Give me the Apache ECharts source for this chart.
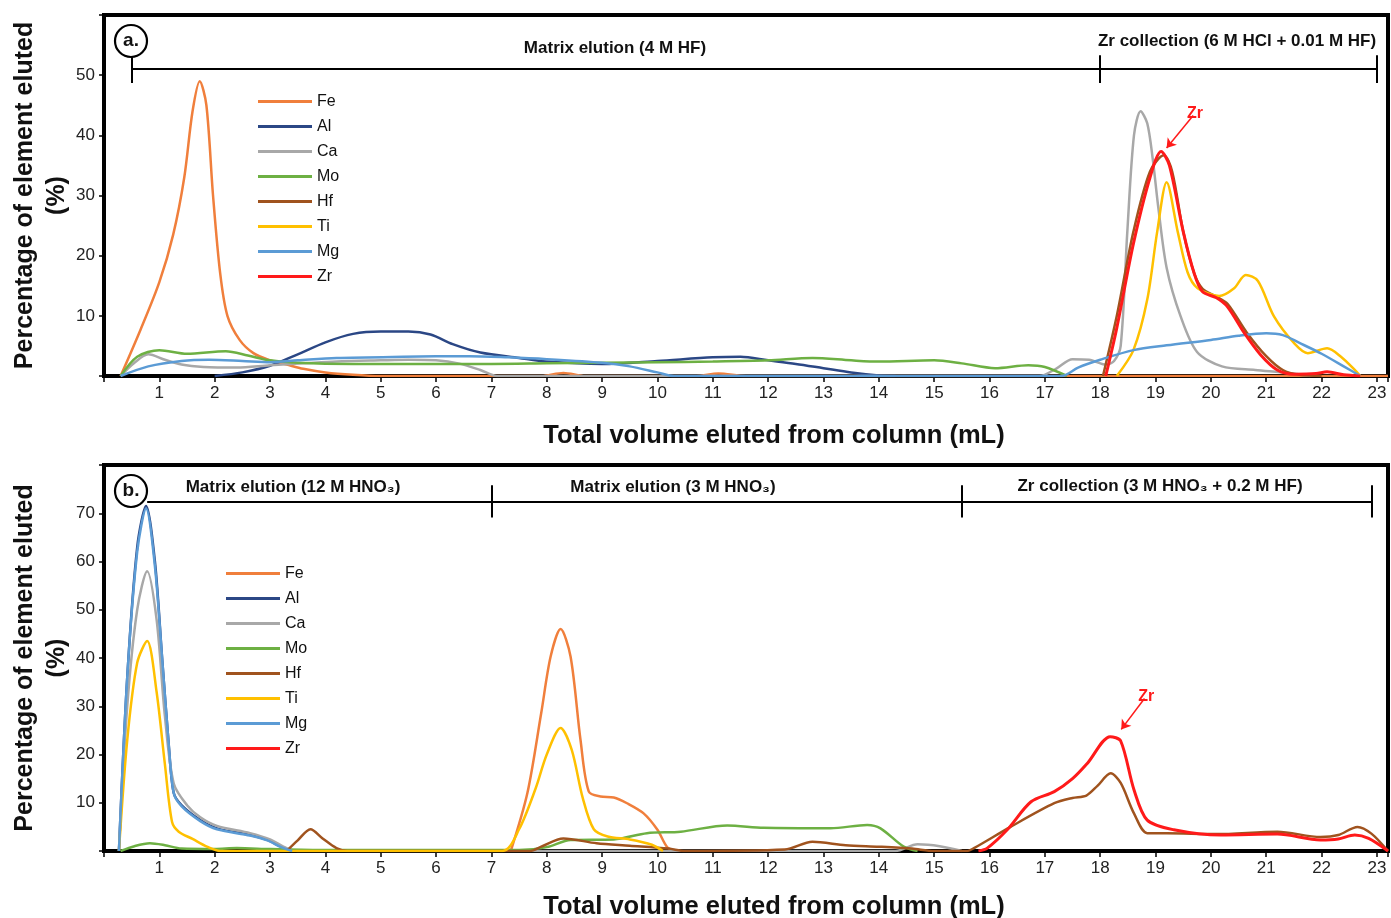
<!DOCTYPE html>
<html>
<head>
<meta charset="utf-8">
<title>Elution profiles</title>
<script src="https://cdn.jsdelivr.net/npm/echarts@6/dist/echarts.min.js"></script>
<style>
    html, body { margin: 0; padding: 0; background: #fff; }
    #chart { width: 1391px; height: 918px; }
</style>
</head>
<body>
<div id="chart"></div>
<script>
// element order as in the legends
var elements = ['Fe', 'Al', 'Ca', 'Mo', 'Hf', 'Ti', 'Mg', 'Zr'];

// ---- panel a : [volume mL, % eluted] ----
var feA = [[0.3,0],[0.66,7.7],[1.0,15.6],[1.25,23.5],[1.45,33],[1.6,44],[1.73,49],[1.85,45],[1.97,30],[2.1,17],[2.23,10],[2.45,6],[2.7,3.8],[3.0,2.6],[3.3,1.9],[3.6,1.2],[4.0,0.6],[4.5,0.2],[5.0,0],[7.9,0],[8.3,0.5],[8.7,0],[10.7,0],[11.1,0.4],[11.6,0],[23.2,0]];
var alA = [[2.0,0],[2.5,0.6],[3.0,1.7],[3.5,3.6],[4.0,5.6],[4.5,7.0],[5.0,7.4],[5.5,7.4],[5.9,6.9],[6.3,5.3],[6.8,3.9],[7.5,3.0],[8.0,2.4],[9.0,2.0],[10.0,2.5],[11.0,3.1],[11.5,3.2],[12.0,2.6],[12.5,2.0],[13.0,1.3],[13.5,0.6],[14.0,0.1],[14.3,0]];
var caA = [[0.3,0],[0.55,2.2],[0.8,3.6],[1.1,2.7],[1.4,1.9],[1.8,1.5],[2.4,1.4],[3.0,1.8],[3.6,2.1],[4.2,2.4],[5.0,2.6],[5.5,2.7],[6.0,2.6],[6.4,2.1],[6.8,1.0],[7.1,0],[16.9,0],[17.2,1.2],[17.5,2.8],[17.8,2.7],[18.1,1.9],[18.25,2.5],[18.37,5],[18.49,24],[18.61,40],[18.73,44],[18.85,42],[18.95,36],[19.05,28],[19.2,18],[19.45,10],[19.75,4],[20.2,1.6],[20.8,1.0],[21.4,0.5],[21.8,0]];
var moA = [[0.3,0],[0.6,3.2],[1.0,4.3],[1.5,3.7],[2.2,4.1],[2.6,3.4],[3.0,2.6],[3.5,2.2],[4.5,2.0],[6.0,2.0],[7.0,2.0],[8.0,2.1],[9.0,2.2],[10.0,2.3],[11.0,2.4],[12.0,2.6],[12.8,3.0],[13.5,2.6],[14.0,2.4],[15.0,2.6],[15.5,2.1],[16.1,1.3],[16.7,1.8],[17.0,1.5],[17.4,0]];
var hfA = [[18.05,0],[18.3,10],[18.6,24],[18.9,34],[19.15,36.7],[19.3,34],[19.5,24],[19.7,17],[19.85,14.5],[20.1,13.2],[20.3,12],[20.65,7.2],[21.0,3.3],[21.3,1.0],[21.6,0.2],[22.0,0]];
var tiA = [[18.3,0],[18.6,4.3],[18.85,12.7],[19.03,24],[19.2,32.2],[19.4,24],[19.58,17.2],[19.76,14.6],[20.15,13.3],[20.42,14.6],[20.63,16.8],[20.85,15.8],[21.14,9.9],[21.5,5.5],[21.75,3.8],[22.1,4.6],[22.35,3.2],[22.6,1.0],[22.7,0]];
var mgA = [[0.3,0],[0.8,1.6],[1.4,2.5],[1.9,2.7],[2.5,2.5],[3.0,2.3],[3.5,2.6],[4.2,3.0],[5.4,3.2],[6.6,3.3],[7.3,3.1],[8.0,2.8],[9.0,2.2],[9.5,1.6],[10.0,0.6],[10.3,0],[17.3,0],[17.6,1.4],[18.0,2.7],[18.6,4.3],[19.2,5.1],[20.0,6.0],[20.5,6.7],[21.0,7.1],[21.3,6.8],[21.6,5.5],[22.0,3.7],[22.4,1.6],[22.7,0]];
var zrA = [[18.1,0],[18.3,8],[18.6,22],[18.9,33],[19.1,37.3],[19.25,35],[19.5,24],[19.7,17],[19.85,14],[20.1,13],[20.3,11.5],[20.6,7.2],[20.9,3.5],[21.2,1.0],[21.5,0.3],[21.9,0.4],[22.1,0.7],[22.4,0.2],[22.7,0]];

// ---- panel b ----
var feB = [[7.35,0],[7.65,12],[7.9,28.6],[8.07,40.3],[8.25,46],[8.43,40.3],[8.61,23],[8.76,12.3],[8.97,11.3],[9.21,11.1],[9.45,9.9],[9.75,7.8],[10.0,4.4],[10.17,0.9],[10.3,0]];
var alB = [[0.27,0],[0.42,36],[0.6,63],[0.76,71.5],[0.92,60],[1.05,40],[1.17,22],[1.26,12],[1.4,9.5],[1.74,6.4],[2.04,4.7],[2.64,3.3],[2.95,2.3],[3.2,0.9],[3.4,0]];
var caB = [[0.27,0],[0.42,30],[0.6,50],[0.78,58],[0.95,48],[1.1,28],[1.26,14],[1.5,9.5],[1.74,7],[2.04,5.2],[2.64,3.7],[3.0,2.4],[3.3,0.6],[3.5,0],[14.3,0],[14.7,1.4],[15.1,1.0],[15.5,0]];
var moB = [[0.3,0],[0.55,1.0],[0.83,1.6],[1.1,1.2],[1.4,0.5],[2.0,0.4],[2.4,0.6],[3.0,0.4],[4.0,0.2],[7.5,0.2],[8.0,0.8],[8.43,2.3],[9.21,2.4],[9.81,3.7],[10.42,4.0],[11.26,5.3],[11.92,4.8],[13.13,4.7],[13.79,5.4],[14.03,4.7],[14.45,0.9],[14.7,0]];
var hfB = [[3.3,0],[3.5,2.2],[3.73,4.5],[3.95,2.6],[4.2,0.6],[4.4,0],[7.7,0],[7.9,0.9],[8.3,2.6],[8.9,1.6],[9.5,1.1],[10.2,0.5],[10.5,0],[12.3,0.3],[12.8,1.9],[13.4,1.2],[14.0,0.9],[14.6,0.5],[15.0,0],[15.6,0],[15.72,0.6],[16.38,5.0],[17.17,9.9],[17.5,11],[17.75,11.5],[17.95,13.5],[18.19,16.1],[18.37,14.1],[18.61,7.8],[18.85,3.7],[19.2,3.7],[20.1,3.5],[21.2,4.0],[21.98,2.9],[22.3,3.3],[22.65,5.0],[22.9,3.6],[23.2,0]];
var tiB = [[0.27,0],[0.42,23],[0.6,39],[0.78,43.5],[0.95,33],[1.1,18],[1.23,6],[1.35,4],[1.6,2.5],[1.86,0.9],[2.1,0],[7.2,0],[7.5,4.5],[7.8,13],[8.0,20],[8.25,25.5],[8.45,21],[8.65,11],[8.85,4.5],[9.1,3.0],[9.5,2.4],[9.9,1.3],[10.1,0]];
var mgB = [[0.27,0],[0.42,36],[0.6,62],[0.76,71],[0.92,59],[1.05,40],[1.17,22],[1.26,12],[1.4,9.3],[1.74,6.2],[2.04,4.5],[2.64,3.2],[2.95,2.2],[3.2,0.8],[3.4,0]];
var zrB = [[15.8,0],[15.96,0.6],[16.32,4.4],[16.75,10.2],[17.17,12.3],[17.5,15],[17.77,18.2],[18.18,23.7],[18.37,22.8],[18.61,12.7],[18.85,6.4],[19.33,4.4],[20.18,3.3],[21.2,3.5],[21.98,2.3],[22.3,2.5],[22.6,3.3],[22.85,2.6],[23.2,0]];

// phase brackets: x positions of the vertical marks and the bracket height
var bracketXA = [0.5, 18, 23];
var bracketXB = [7, 15.5, 22.9];
var phaseTextA = ['Matrix elution (4 M HF)', 'Zr collection (6 M HCl + 0.01 M HF)'];
var phaseTextB = ['Matrix elution (12 M HNO\u2083)', 'Matrix elution (3 M HNO\u2083)', 'Zr collection (3 M HNO\u2083 + 0.2 M HF)'];

var ElutionChart = {
    colors: {
        Fe: '#F07F3C', Al: '#2B4785', Ca: '#A8A8A8', Mo: '#6DB043',
        Hf: '#A0531E', Ti: '#FFC000', Mg: '#5B9BD5', Zr: '#FF1A1A'
    },
    font: '"Liberation Sans", Arial, Helvetica, sans-serif',

    init: function () {
        var chart = echarts.init(document.getElementById('chart'));
        chart.setOption(ElutionChart.buildOption());
    },

    xAxis: function (grid, gap) {
        return {
            type: 'value', gridIndex: grid, min: 0, max: 23.2, interval: 1,
            name: 'Total volume eluted from column (mL)',
            nameLocation: 'middle', nameGap: gap,
            nameTextStyle: { fontFamily: ElutionChart.font, fontWeight: 'bold', fontSize: 25.5, color: '#111', padding: [0, 0, 0, 56] },
            axisLine: { lineStyle: { color: '#000', width: 4 } },
            axisTick: { length: 6, lineStyle: { color: '#000', width: 1.5 } },
            axisLabel: {
                margin: 9, fontFamily: ElutionChart.font, fontSize: 17, color: '#222',
                formatter: function (v) { return (v > 0 && v === Math.round(v)) ? v : ''; }
            },
            splitLine: { show: false }
        };
    },

    yAxis: function (grid, max) {
        return {
            type: 'value', gridIndex: grid, min: 0, max: max, interval: 10,
            name: 'Percentage of element eluted\n(%)',
            nameLocation: 'middle', nameGap: 31, nameRotate: 90, nameMoveOverlap: false,
            nameTextStyle: { fontFamily: ElutionChart.font, fontWeight: 'bold', fontSize: 25, color: '#111', lineHeight: 32 },
            axisLine: { lineStyle: { color: '#000', width: 4 } },
            axisTick: { length: 5, lineStyle: { color: '#000', width: 1.5 } },
            axisLabel: {
                margin: 9, fontFamily: ElutionChart.font, fontSize: 17, color: '#222',
                formatter: function (v) { return (v > 0 && v < max) ? v : ''; }
            },
            splitLine: { show: false }
        };
    },

    legend: function (left, top) {
        return {
            orient: 'vertical', left: left, top: top, padding: 0,
            data: elements, icon: 'rect', itemWidth: 54, itemHeight: 3, itemGap: 8,
            selectedMode: false,
            textStyle: { fontFamily: ElutionChart.font, fontSize: 16, color: '#111', lineHeight: 17 }
        };
    },

    // bracket lines drawn as markLines of an empty helper series
    bracketSeries: function (grid, xs, startX, y, yLow, yHigh) {
        var lines = [[{ coord: [startX, y] }, { coord: [xs[xs.length - 1], y] }]];
        xs.forEach(function (x) {
            lines.push([{ coord: [x, yLow] }, { coord: [x, yHigh] }]);
        });
        return {
            type: 'line', name: 'bracket' + grid, xAxisIndex: grid, yAxisIndex: grid, data: [],
            markLine: {
                silent: true, symbol: 'none', animation: false,
                label: { show: false },
                lineStyle: { color: '#000', width: 2, type: 'solid' },
                data: lines
            }
        };
    },

    buildOption: function () {
        var dataA = { Fe: feA, Al: alA, Ca: caA, Mo: moA, Hf: hfA, Ti: tiA, Mg: mgA, Zr: zrA };
        var dataB = { Fe: feB, Al: alB, Ca: caB, Mo: moB, Hf: hfB, Ti: tiB, Mg: mgB, Zr: zrB };
        var series = [];

        [dataA, dataB].forEach(function (set, g) {
            elements.forEach(function (el) {
                var s = {
                    type: 'line', name: el, xAxisIndex: g, yAxisIndex: g,
                    data: set[el], showSymbol: false, smooth: 0.3,
                    lineStyle: { color: ElutionChart.colors[el], width: el === 'Zr' ? 3 : 2.5 },
                    itemStyle: { color: ElutionChart.colors[el] }
                };
                if (el === 'Zr') {
                    var arrow = g === 0 ? [[19.68, 43.3], [19.2, 37.9]] : [[18.8, 31.6], [18.38, 25.2]];
                    s.markLine = {
                        silent: true, animation: false,
                        symbol: ['none', 'arrow'], symbolSize: 9,
                        lineStyle: { color: '#FF1A1A', width: 1.5, type: 'solid' },
                        label: {
                            show: true, position: 'start', formatter: 'Zr', distance: 3,
                            color: '#FF1A1A', fontFamily: ElutionChart.font, fontWeight: 'bold', fontSize: 16
                        },
                        data: [[{ coord: arrow[0] }, { coord: arrow[1] }]]
                    };
                }
                series.push(s);
            });
        });
        series.push(ElutionChart.bracketSeries(0, bracketXA, 0.5, 51, 48.7, 53.3));
        series.push(ElutionChart.bracketSeries(1, bracketXB, 0.78, 72.4, 69.1, 75.8));

        var phaseStyle = { fontFamily: ElutionChart.font, fontWeight: 'bold', fontSize: 17, fill: '#111' };
        function phaseText(txt, x, y) {
            return { type: 'text', x: x, y: y, style: echarts.util.extend({ text: txt, align: 'center', verticalAlign: 'middle' }, phaseStyle) };
        }
        function badge(txt, x, y) {
            return [
                { type: 'circle', shape: { cx: x, cy: y, r: 16 }, style: { fill: '#fff', stroke: '#000', lineWidth: 2.2 }, z: 10 },
                { type: 'text', x: x, y: y, z: 11, style: { text: txt, align: 'center', verticalAlign: 'middle', fontFamily: ElutionChart.font, fontWeight: 'bold', fontSize: 19, fill: '#111' } }
            ];
        }

        return {
            animation: false,
            backgroundColor: '#fff',
            grid: [
                { left: 104, top: 15, width: 1284, height: 361, outerBoundsMode: 'none', show: true, borderColor: '#000', borderWidth: 4 },
                { left: 104, top: 465, width: 1284, height: 386, outerBoundsMode: 'none', show: true, borderColor: '#000', borderWidth: 4 }
            ],
            xAxis: [ElutionChart.xAxis(0, 47), ElutionChart.xAxis(1, 43)],
            yAxis: [ElutionChart.yAxis(0, 60), ElutionChart.yAxis(1, 80)],
            legend: [ElutionChart.legend(258, 93), ElutionChart.legend(226, 565)],
            series: series,
            graphic: [
                phaseText(phaseTextA[0], 615, 48),
                phaseText(phaseTextA[1], 1237, 41),
                phaseText(phaseTextB[0], 293, 487),
                phaseText(phaseTextB[1], 673, 487),
                phaseText(phaseTextB[2], 1160, 486)
            ].concat(badge('a.', 131, 41), badge('b.', 131, 491))
        };
    }
};

ElutionChart.init();
</script>
</body>
</html>
